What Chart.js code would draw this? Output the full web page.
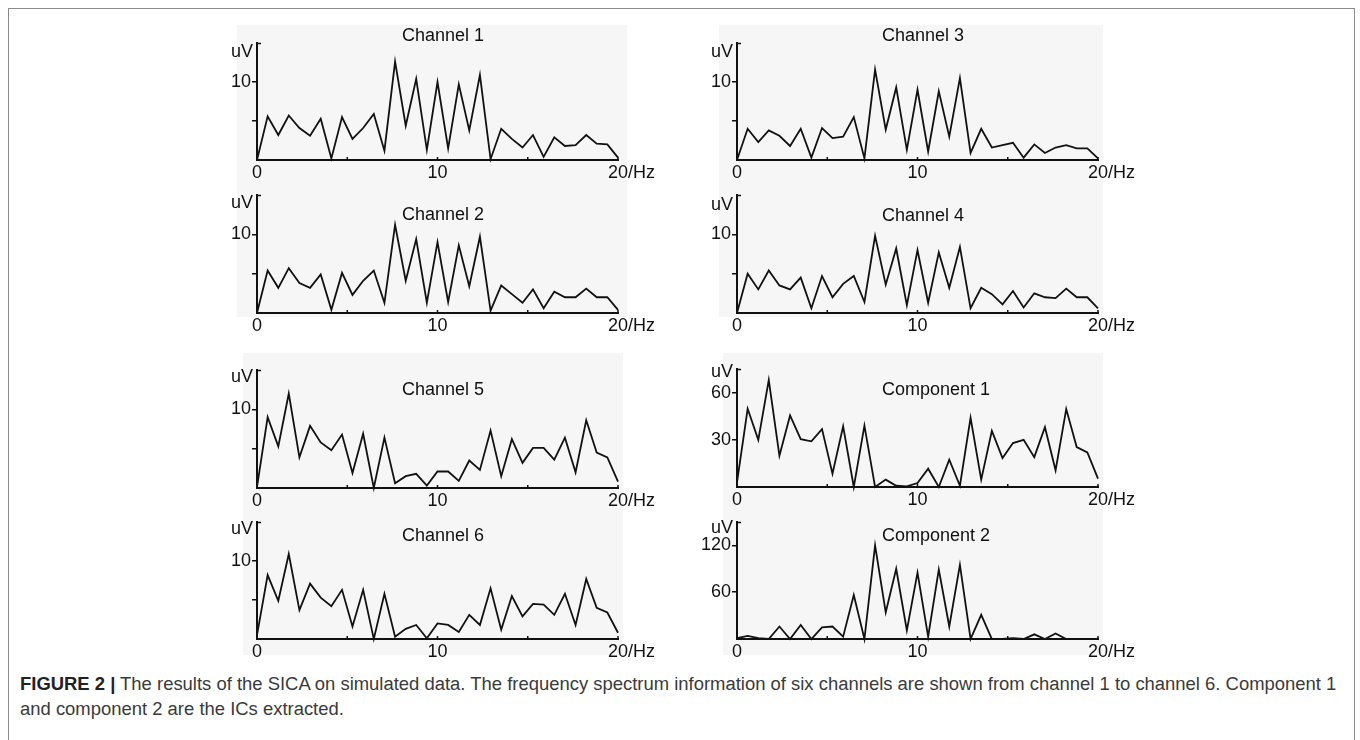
<!DOCTYPE html>
<html>
<head>
<meta charset="utf-8">
<script src="https://cdn.jsdelivr.net/npm/chart.js@4.4.1/dist/chart.umd.min.js"></script>
<style>
  html, body { margin: 0; padding: 0; background: #fff; }
  #page { position: relative; width: 1360px; height: 740px; overflow: hidden; font-family: "Liberation Sans", Arial, sans-serif; }
  .frame { position: absolute; left: 8px; top: 8px; width: 1347px; height: 800px; border: 1px solid #8c8c8c; box-sizing: border-box; }
  .bg { position: absolute; background: #f6f6f6; }
  canvas.panel { position: absolute; }
  #caption { position: absolute; left: 20px; top: 671px; font-size: 15px; line-height: 25px; color: #3a3a3a; white-space: nowrap; }
  #caption b { color: #222; }
</style>
</head>
<body>
<div id="page">
  <div class="frame"></div>
  <div class="bg" style="left:237px;top:25px;width:390px;height:292px"></div>
  <div class="bg" style="left:719px;top:25px;width:384px;height:292px"></div>
  <div class="bg" style="left:243px;top:353px;width:380px;height:302px"></div>
  <div class="bg" style="left:723px;top:353px;width:380px;height:302px"></div>
  <div id="caption"><span id="line1"><b>FIGURE 2 |</b> The results of the SICA on simulated data. The frequency spectrum information of six channels are shown from channel 1 to channel 6. Component 1</span><br>and component 2 are the ICs extracted.</div>
</div>
<script>
// frequency bins (Hz)
const freqs = [0, 0.59, 1.18, 1.76, 2.35, 2.94, 3.53, 4.12, 4.71, 5.29, 5.88, 6.47,
  7.06, 7.65, 8.24, 8.82, 9.41, 10, 10.59, 11.18, 11.76, 12.35, 12.94, 13.53,
  14.12, 14.71, 15.29, 15.88, 16.47, 17.06, 17.65, 18.24, 18.82, 19.41, 20];

// amplitude spectra (uV)
const channel1 = [0, 5.6, 3.2, 5.7, 4.1, 3.1, 5.3, 0.2, 5.5, 2.7, 4.1, 5.9, 1.2, 12.6, 4.4, 10.4, 1.3, 10.0,
  1.5, 9.7, 3.8, 10.9, 0.1, 4.0, 2.7, 1.6, 3.2, 0.4, 2.9, 1.8, 1.9, 3.2, 2.1, 2.0, 0.3];
const channel2 = [0, 5.4, 3.2, 5.7, 3.8, 3.2, 4.9, 0.4, 5.1, 2.3, 4.1, 5.4, 1.3, 11.2, 4.1, 9.4, 1.3, 9.0,
  1.4, 8.6, 3.4, 9.7, 0.3, 3.5, 2.4, 1.3, 3.0, 0.6, 2.7, 2.0, 2.0, 3.1, 2.0, 2.0, 0.4];
const channel3 = [0, 4.0, 2.3, 3.8, 3.1, 1.8, 4.0, 0.3, 4.1, 2.8, 3.0, 5.5, 0.2, 11.6, 3.9, 9.3, 1.3, 9.0,
  1.1, 8.8, 3.0, 10.5, 0.9, 4.0, 1.6, 1.9, 2.2, 0.3, 2.0, 0.9, 1.6, 1.9, 1.5, 1.5, 0.2];
const channel4 = [0, 5.0, 3.0, 5.4, 3.5, 3.0, 4.5, 0.6, 4.7, 2.0, 3.7, 4.7, 1.4, 9.8, 3.6, 8.2, 1.0, 8.0,
  1.3, 7.7, 3.2, 8.4, 0.6, 3.2, 2.4, 1.1, 2.8, 0.7, 2.5, 2.0, 1.9, 3.1, 2.0, 2.0, 0.6];
const channel5 = [0.1, 9.0, 5.3, 12.0, 3.9, 7.9, 5.8, 4.8, 6.8, 1.9, 6.9, 0, 6.4, 0.6, 1.5, 1.8, 0.3, 2.1,
  2.1, 0.9, 3.5, 2.3, 7.3, 1.5, 6.2, 3.2, 5.1, 5.1, 3.6, 6.4, 2.0, 8.6, 4.5, 3.9, 0.8];
const channel6 = [0.5, 8.2, 4.9, 10.9, 3.7, 7.1, 5.3, 4.2, 6.3, 1.6, 6.3, 0, 5.8, 0.3, 1.3, 1.8, 0.1, 2.0,
  1.8, 0.9, 3.1, 1.8, 6.5, 1.2, 5.5, 2.9, 4.5, 4.4, 3.1, 5.8, 1.8, 7.7, 4.0, 3.4, 0.8];
const component1 = [3, 49.7, 30, 68, 19.9, 45.5, 30.4, 29, 36.8, 8.5, 38.5, 0, 39, 0, 4.7, 0.8, 0.4, 2.5,
  11.6, 0, 17.3, 0.8, 44, 4.7, 35.7, 18.4, 27.9, 30, 19, 38, 10.6, 49.5, 25.4, 22, 5.3];
const component2 = [1, 4, 1, 0, 16, 0, 18, 0, 15, 16, 3, 56.5, 0, 120, 34, 90, 11, 85,
  3, 89, 16, 95, 0, 31, 0, 0, 1, 0, 6, 0, 7, 0, 0, 0, 0];

const FONT = '"Liberation Sans", Arial, sans-serif';
const INK = "#111";

// layout of each panel on the page (plot area left/right, top/bottom)
const panels = [
  { title: "Channel 1", data: channel1, max: 15, step: 5, shown: [10], x0: 257, x1: 618, top: 43, base: 160, titleY: 36, uvDy: 14 },
  { title: "Channel 2", data: channel2, max: 15, step: 5, shown: [10], x0: 257, x1: 618, top: 195, base: 313, titleY: 215, uvDy: 13 },
  { title: "Channel 3", data: channel3, max: 15, step: 5, shown: [10], x0: 737, x1: 1098, top: 43, base: 160, titleY: 36, uvDy: 14 },
  { title: "Channel 4", data: channel4, max: 15, step: 5, shown: [10], x0: 737, x1: 1098, top: 195, base: 313, titleY: 216, uvDy: 15 },
  { title: "Channel 5", data: channel5, max: 15, step: 5, shown: [10], x0: 257, x1: 618, top: 370, base: 488, titleY: 390, uvDy: 12 },
  { title: "Channel 6", data: channel6, max: 15, step: 5, shown: [10], x0: 257, x1: 618, top: 522, base: 639, titleY: 536, uvDy: 12 },
  { title: "Component 1", data: component1, max: 75, step: 15, shown: [30, 60], x0: 737, x1: 1098, top: 369, base: 487, titleY: 390, uvDy: 8 },
  { title: "Component 2", data: component2, max: 150, step: 30, shown: [60, 120], x0: 737, x1: 1098, top: 522, base: 639, titleY: 536, uvDy: 11 },
];

const Y_W = 77, PAD_R = 62, PAD_T = 30, X_H = 26;

const decor = {
  id: "decor",
  afterDraw(chart, args, opts) {
    const { ctx, chartArea: a, scales } = chart;
    const p = opts.panel;
    ctx.save();
    ctx.fillStyle = INK;
    ctx.strokeStyle = INK;
    ctx.font = "18px " + FONT;

    // panel title
    ctx.textAlign = "left";
    ctx.textBaseline = "middle";
    ctx.fillText(p.title, a.left + 145, p.titleY - (p.top - PAD_T));

    // unit label
    ctx.textAlign = "right";
    ctx.textBaseline = "alphabetic";
    ctx.fillText("uV", a.left - 4, a.top + p.uvDy);

    // stub at axis top
    ctx.lineWidth = 1.5;
    ctx.beginPath();
    ctx.moveTo(a.left, a.top + 0.5);
    ctx.lineTo(a.left + 4, a.top + 0.5);
    ctx.stroke();

    // small inner ticks on the x axis
    [5, 10, 15, 20].forEach(v => {
      const px = scales.x.getPixelForValue(v);
      ctx.beginPath();
      ctx.moveTo(px, a.bottom);
      ctx.lineTo(px, a.bottom - 3);
      ctx.stroke();
    });

    // unit after the last x label
    const lh = 18 * 1.2;
    const yLab = scales.x.top + 2 + lh / 2;
    const half = ctx.measureText("20").width / 2;
    ctx.textAlign = "left";
    ctx.textBaseline = "middle";
    ctx.fillText("/Hz", scales.x.getPixelForValue(20) + half, yLab);
    ctx.restore();
  }
};

function drawPanel(p) {
  const left = p.x0 - Y_W;
  const top = p.top - PAD_T;
  const width = p.x1 + PAD_R - left;
  const height = p.base + X_H - top;

  const canvas = document.createElement("canvas");
  canvas.className = "panel";
  canvas.width = width;
  canvas.height = height;
  canvas.style.left = left + "px";
  canvas.style.top = top + "px";
  canvas.style.width = width + "px";
  canvas.style.height = height + "px";
  document.getElementById("page").appendChild(canvas);

  new Chart(canvas, {
    type: "line",
    data: {
      datasets: [{
        data: freqs.map((f, i) => ({ x: f, y: p.data[i] })),
        borderColor: INK,
        borderWidth: 1.8,
        pointRadius: 0,
        tension: 0,
        clip: false,
      }],
    },
    options: {
      responsive: false,
      animation: false,
      devicePixelRatio: 1,
      layout: { padding: { left: 0, right: PAD_R, top: PAD_T, bottom: 0 } },
      plugins: {
        legend: { display: false },
        tooltip: { enabled: false },
        decor: { panel: p },
      },
      scales: {
        x: {
          type: "linear",
          min: 0,
          max: 20,
          afterFit: s => { s.height = X_H; },
          grid: { display: false, drawTicks: false },
          border: { display: true, color: INK, width: 2 },
          ticks: {
            stepSize: 5,
            autoSkip: false,
            maxRotation: 0,
            padding: 2,
            color: INK,
            font: { size: 18, family: FONT },
            callback: v => (v % 10 === 0 ? String(v) : ""),
          },
        },
        y: {
          min: 0,
          max: p.max,
          afterFit: s => { s.width = Y_W; },
          grid: {
            drawOnChartArea: false,
            drawTicks: true,
            tickLength: 5,
            lineWidth: 1.5,
            color: c => (c.tick && (c.tick.value === 0 || c.tick.value === p.max) ? "rgba(0,0,0,0)" : INK),
          },
          border: { display: true, color: INK, width: 2 },
          ticks: {
            stepSize: p.step,
            padding: 1,
            color: INK,
            font: { size: 18, family: FONT },
            callback: v => (p.shown.includes(v) ? String(v) : ""),
          },
        },
      },
    },
    plugins: [decor],
  });
}

panels.forEach(drawPanel);

// stretch the first caption line to the width used in the figure
const line1 = document.getElementById("line1");
const cap = document.getElementById("caption");
const w = line1.getBoundingClientRect().width;
cap.style.fontSize = (15 * 1318 / w).toFixed(2) + "px";
</script>
</body>
</html>
